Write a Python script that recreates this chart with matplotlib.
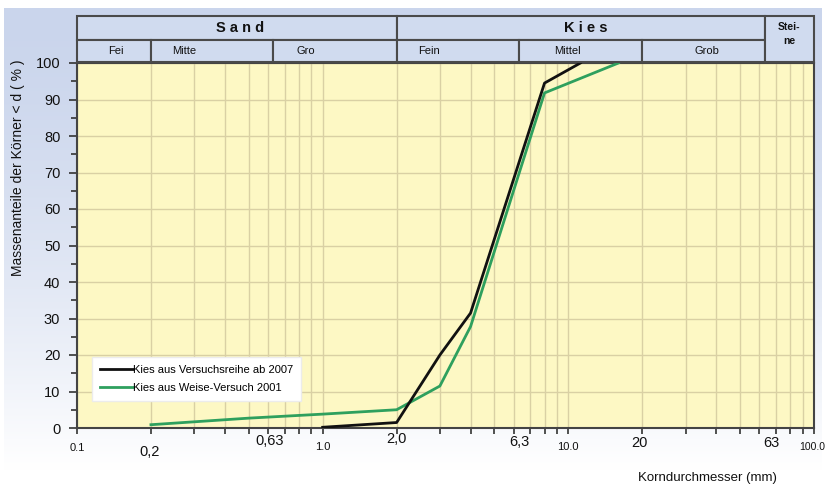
import numpy as np
import matplotlib
matplotlib.use("Agg")
import matplotlib.pyplot as plt
from matplotlib.patches import Rectangle
import matplotlib.transforms as mtransforms

plt.rcParams['font.family'] = ['Liberation Sans', 'DejaVu Sans']

# --- data -------------------------------------------------------------
d_2007 = [1.0, 2.0, 3.0, 4.0, 8.0, 11.2]
p_2007 = [0.2, 1.5, 20.0, 31.5, 94.5, 100.0]

d_2001 = [0.2, 0.5, 1.0, 2.0, 3.0, 4.0, 8.0, 16.0]
p_2001 = [0.9, 2.7, 3.8, 5.0, 11.5, 27.8, 91.8, 100.0]

series_names = ["Kies aus Versuchsreihe ab 2007", "Kies aus Weise-Versuch 2001"]

xtick_values = [0.1, 0.2, 0.63, 1.0, 2.0, 6.3, 10.0, 20.0, 63.0, 100.0]
xtick_labels = ["0.1", "0,2", "0,63", "1.0", "2,0", "6,3", "10.0", "20", "63", "100.0"]

# soil classes: (label, lower, upper)
main_classes = [("S a n d", 0.1, 2.0), ("K i e s", 2.0, 63.0)]
sub_classes = [("Fei", 0.1, 0.2), ("Mitte", 0.2, 0.63), ("Gro", 0.63, 2.0),
               ("Fein", 2.0, 6.3), ("Mittel", 6.3, 20.0), ("Grob", 20.0, 63.0)]
stone_class = ("Stei-\nne", 63.0, 100.0)

# --- figure -----------------------------------------------------------
W, H = 825, 484
fig = plt.figure(figsize=(W / 100, H / 100), dpi=100)

# soft blue backdrop fading to white
bg = fig.add_axes([4 / W, 0, 1 - 8 / W, 1 - 8 / H])
bg.set_axis_off()
grad = np.linspace(0, 1, 256)[:, None]
top_c = np.array([202, 213, 236]) / 255
bot_c = np.array([255, 255, 255]) / 255
t = np.clip(grad / 0.97, 0, 1) ** 1.5
img = top_c[None, None, :] * (1 - t[..., None]) + bot_c[None, None, :] * t[..., None]
bg.imshow(img, aspect='auto', extent=[0, 1, 0, 1], origin='upper')
bg.set_xlim(0, 1)
bg.set_ylim(0, 1)

L, R, T, B = 77, 814, 63, 428
ax = fig.add_axes([L / W, 1 - B / H, (R - L) / W, (B - T) / H])
ax.set_facecolor('#fdf8c4')
ax.set_xscale('log')
ax.set_xlim(0.1, 100)
ax.set_ylim(0, 100)

grid_c = '#d9d0a4'
ax.xaxis.set_major_locator(matplotlib.ticker.LogLocator(base=10, numticks=10))
ax.xaxis.set_minor_locator(matplotlib.ticker.LogLocator(base=10, subs=np.arange(2, 10), numticks=20))
ax.xaxis.set_major_formatter(matplotlib.ticker.NullFormatter())
ax.xaxis.set_minor_formatter(matplotlib.ticker.NullFormatter())
ax.grid(True, which='both', axis='x', color=grid_c, lw=1.0)
ax.set_yticks(np.arange(0, 101, 10))
ax.set_yticks(np.arange(5, 100, 10), minor=True)
ax.grid(True, which='major', axis='y', color=grid_c, lw=1.0)
ax.set_axisbelow(True)

ax.tick_params(axis='x', which='both', direction='out', length=4, width=1.2, color='#333333')
ax.tick_params(axis='y', which='major', direction='out', length=6, width=1.2,
               color='#333333', labelsize=10.5, pad=6, labelcolor='#111111')
ax.tick_params(axis='y', which='minor', direction='out', length=4, width=1.2, color='#333333')
for s in ['left', 'bottom', 'right', 'top']:
    ax.spines[s].set_color('#444444')
    ax.spines[s].set_linewidth(1.5)

ax.plot(d_2007, p_2007, color='#111111', lw=2.0, label=series_names[0], zorder=4)
ax.plot(d_2001, p_2001, color='#2ea05e', lw=2.0, label=series_names[1], zorder=3)

leg = ax.legend(loc='lower left', bbox_to_anchor=(0.02, 0.075), frameon=True,
                fancybox=False, fontsize=8, handlelength=3.0, handletextpad=0.05,
                borderpad=0.7, labelspacing=0.75, borderaxespad=0)
leg.get_frame().set_facecolor('white')
leg.get_frame().set_edgecolor('#ececec')
leg.get_frame().set_alpha(1.0)

# x tick labels with individual size and vertical offset (points below axis)
xlabel_style = {"0.1": (8, 11), "0,2": (10.5, 12), "0,63": (10.5, 4),
                "1.0": (8, 10), "2,0": (10.5, 3), "6,3": (10.5, 5),
                "10.0": (8, 10), "20": (10.5, 6), "63": (10.5, 6), "100.0": (7.5, 10)}
xlabel_dx = {"0,2": -1, "0,63": -4, "20": -3, "63": 7, "100.0": -2}
trans = mtransforms.blended_transform_factory(ax.transData, ax.transAxes)
for v, lab in zip(xtick_values, xtick_labels):
    fs, dy = xlabel_style[lab]
    off = mtransforms.offset_copy(trans, fig=fig, x=xlabel_dx.get(lab, 0) * 0.72,
                                  y=-dy, units='points')
    ax.text(v, 0, lab, transform=off, ha='center', va='top', fontsize=fs,
            color='#111111')

fig.text(18 / W, 1 - 168 / H, "Massenanteile der Körner < d ( % )", rotation=90,
         ha='center', va='center', fontsize=10, color='#111111')
fig.text(707 / W, 1 - 478 / H, "Korndurchmesser (mm)", ha='center', va='center',
         fontsize=9.5, color='#111111')

# --- classification header -------------------------------------------
hT, hM, hB = 16, 40, 62
hx = fig.add_axes([L / W, 1 - hB / H, (R - L) / W, (hB - hT) / H])
hx.set_xscale('log')
hx.set_xlim(0.1, 100)
hx.set_ylim(0, hB - hT)
hx.set_axis_off()
row2 = hB - hM
row1 = hM - hT
fill_c = '#d0dbef'
edge_c = '#4a4a4a'
main_pos = {"S a n d": 0.46, "K i e s": 11.8}
for name, lo, hi in main_classes:
    hx.add_patch(Rectangle((lo, row2), hi - lo, row1, facecolor=fill_c,
                           edgecolor=edge_c, lw=1.5, clip_on=False))
    hx.text(main_pos[name], row2 + row1 / 2, name, ha='center', va='center',
            fontsize=10.5, fontweight='bold', color='#111111')
sub_pos = {"Fei": 0.144, "Mitte": 0.272, "Gro": 0.85, "Fein": 2.7,
           "Mittel": 9.9, "Grob": 36.7}
for name, lo, hi in sub_classes:
    hx.add_patch(Rectangle((lo, 0), hi - lo, row2, facecolor=fill_c,
                           edgecolor=edge_c, lw=1.5, clip_on=False))
    hx.text(sub_pos[name], row2 / 2, name, ha='center', va='center',
            fontsize=8, color='#111111')
name, lo, hi = stone_class
hx.add_patch(Rectangle((lo, 0), hi - lo, row1 + row2, facecolor=fill_c,
                       edgecolor=edge_c, lw=1.5, clip_on=False))
hx.text(np.sqrt(lo * hi), row2 + 6, name, ha='center', va='center',
        fontsize=7.5, fontweight='bold', color='#111111', linespacing=1.5)

fig.savefig("out.png", dpi=100)
